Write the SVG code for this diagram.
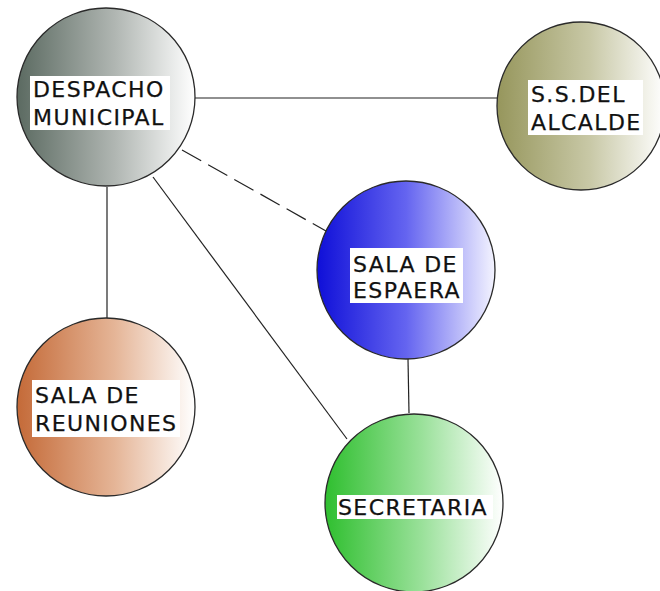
<svg xmlns="http://www.w3.org/2000/svg" width="660" height="591" viewBox="0 0 660 591">
<style>
.node circle{stroke:#2a2a2a;stroke-width:1.3}
.lbl{fill:#fff}
.t{font-family:"DejaVu Sans",Verdana,sans-serif;font-size:22px;letter-spacing:1.4px;fill:#111;stroke:#111;stroke-width:0.25}
.c{stroke:#222;stroke-width:1.2;fill:none}
</style>
<defs>
<linearGradient id="gGrey" x1="0" y1="0" x2="1" y2="0"><stop offset="0" stop-color="#5b6a61"/><stop offset="0.55" stop-color="#b0b6b2"/><stop offset="1" stop-color="#ffffff"/></linearGradient>
<linearGradient id="gOlive" x1="0" y1="0" x2="1" y2="0"><stop offset="0" stop-color="#96965c"/><stop offset="0.55" stop-color="#c8c8a6"/><stop offset="1" stop-color="#ffffff"/></linearGradient>
<linearGradient id="gBlue" x1="0" y1="0" x2="1" y2="0"><stop offset="0" stop-color="#0f0fd8"/><stop offset="0.5" stop-color="#6464f0"/><stop offset="1" stop-color="#f4f4ff"/></linearGradient>
<linearGradient id="gOrange" x1="0" y1="0" x2="1" y2="0"><stop offset="0" stop-color="#c46a38"/><stop offset="0.55" stop-color="#e5b597"/><stop offset="1" stop-color="#ffffff"/></linearGradient>
<linearGradient id="gGreen" x1="0" y1="0" x2="1" y2="0"><stop offset="0" stop-color="#2fbf2f"/><stop offset="0.55" stop-color="#9be19b"/><stop offset="1" stop-color="#ffffff"/></linearGradient>
</defs>
<rect width="660" height="591" fill="#fff"/>
<g id="connectors">
<line class="c" x1="195" y1="98" x2="497" y2="98"/>
<line class="c" x1="182" y1="150" x2="326" y2="231" stroke-dasharray="22 8"/>
<line class="c" x1="107" y1="187" x2="107" y2="318"/>
<line class="c" x1="153" y1="177" x2="347" y2="439"/>
<line class="c" x1="408" y1="359" x2="409" y2="413"/>
</g>
<g id="despacho" class="node">
<circle cx="106" cy="97" r="89" fill="url(#gGrey)"/>
<rect class="lbl" x="30" y="76" width="140" height="54"/>
<text class="t" x="33" y="97">DESPACHO</text>
<text class="t" x="33" y="125">MUNICIPAL</text>
</g>
<g id="ssdel" class="node">
<circle cx="581" cy="106" r="84" fill="url(#gOlive)"/>
<rect class="lbl" x="528" y="80" width="115" height="55"/>
<text class="t" x="531" y="102">S.S.DEL</text>
<text class="t" x="531" y="130">ALCALDE</text>
</g>
<g id="espaera" class="node">
<circle cx="406" cy="270" r="89" fill="url(#gBlue)"/>
<rect class="lbl" x="350" y="248" width="113" height="55"/>
<text class="t" x="353" y="272">SALA DE</text>
<text class="t" x="353" y="298">ESPAERA</text>
</g>
<g id="reuniones" class="node">
<circle cx="106" cy="407" r="89" fill="url(#gOrange)"/>
<rect class="lbl" x="32" y="380" width="148" height="57"/>
<text class="t" x="35" y="403">SALA DE</text>
<text class="t" x="35" y="431">REUNIONES</text>
</g>
<g id="secretaria" class="node">
<circle cx="414" cy="503" r="89" fill="url(#gGreen)"/>
<rect class="lbl" x="337" y="495" width="156" height="24"/>
<text class="t" x="338" y="515">SECRETARIA</text>
</g>
</svg>
